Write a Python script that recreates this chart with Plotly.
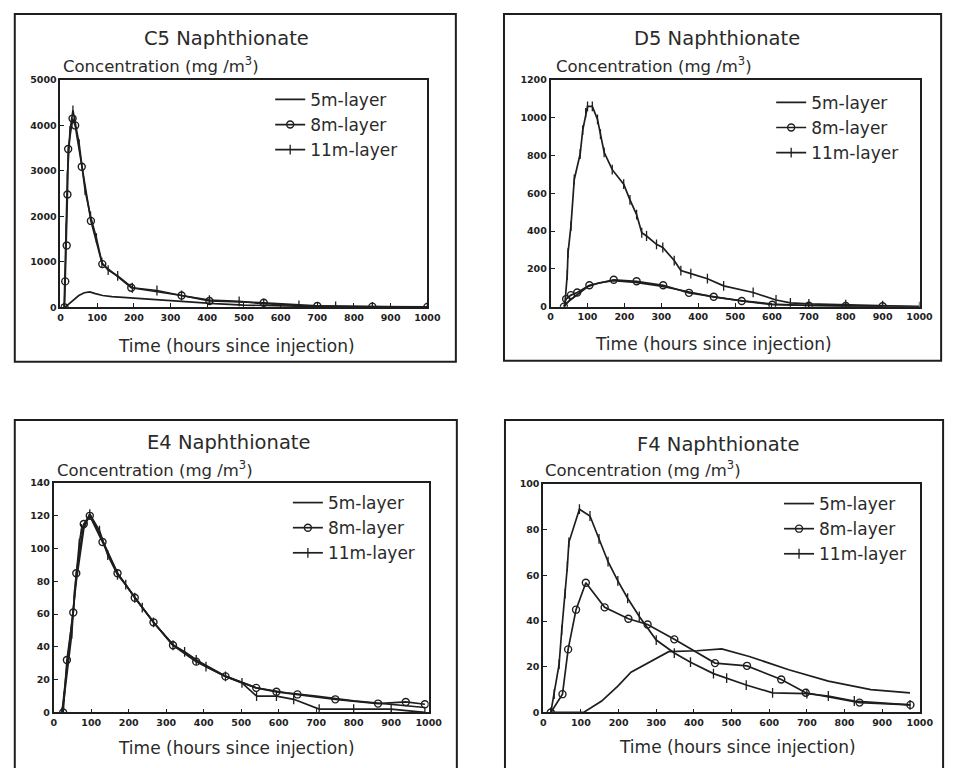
import plotly.graph_objects as go

W, H = 962, 768

# ---- data: time (hours since injection) and concentration (mg/m3) ----
# C5
c5_t5 = [12, 30, 50, 65, 80, 95, 115, 140, 200, 260, 310, 360, 420, 500, 600, 700, 800, 900, 1000]
c5_c5 = [0, 120, 260, 320, 340, 300, 260, 235, 200, 170, 140, 110, 80, 50, 25, 15, 10, 5, 5]
c5_t8 = [11, 13, 17, 19, 21, 33, 40, 58, 83, 114, 193, 330, 406, 554, 700, 850, 1000]
c5_c8 = [0, 570, 1360, 2480, 3480, 4150, 4000, 3090, 1900, 950, 430, 260, 140, 100, 30, 15, 10]
c5_t11 = [10, 16, 19, 26, 34, 51, 67, 82, 98, 113, 130, 156, 196, 263, 330, 406, 487, 554, 650, 750, 850, 1000]
c5_c11 = [0, 1750, 2900, 3880, 4330, 3590, 2580, 2000, 1520, 980, 820, 690, 430, 370, 260, 160, 130, 80, 40, 20, 10, 5]

# D5
d5_t5 = [36, 50, 70, 100, 130, 170, 230, 300, 370, 440, 520, 600, 700, 800, 900, 1000]
d5_c5 = [0, 30, 60, 105, 125, 138, 128, 108, 80, 52, 30, 14, 6, 3, 2, 0]
d5_t8 = [36, 42, 55, 72, 105, 171, 233, 305, 375, 442, 518, 601, 700, 800, 900]
d5_c8 = [0, 40, 61, 75, 113, 142, 134, 113, 73, 52, 30, 10, 5, 3, 2]
d5_t11 = [38, 45, 47, 55, 64, 80, 87, 95, 100, 113, 127, 135, 145, 167, 198, 215, 233, 247, 260, 287,
          304, 335, 353, 380, 425, 469, 549, 611, 650, 700, 800, 900, 1000]
d5_c11 = [0, 168, 283, 426, 673, 808, 934, 1026, 1060, 1060, 991, 913, 817, 725, 648, 565, 487, 391, 374, 330,
          313, 244, 191, 175, 148, 110, 75, 35, 20, 15, 10, 5, 0]

# E4
e4_t5 = [22, 40, 60, 80, 96, 130, 170, 220, 270, 320, 380, 460, 540, 620, 700, 800, 900, 960, 990]
e4_c5 = [0, 38, 80, 112, 121, 105, 85, 69, 54, 41, 32, 22, 15, 12, 10, 7, 5, 4, 3]
e4_t8 = [25, 35, 52, 60, 80, 96, 130, 170, 216, 266, 318, 380, 458, 540, 594, 650, 751, 865, 939, 990]
e4_c8 = [0, 32, 61, 85, 115, 120, 104, 85, 70, 55, 41, 31, 22, 15, 12.6, 11, 8, 5.4, 6.4, 5]
e4_t11 = [22, 28, 48, 55, 68, 74, 96, 122, 144, 170, 192, 216, 236, 266, 318, 349, 380, 406, 458, 502,
          541, 594, 640, 708, 800, 900, 990]
e4_c11 = [0, 10, 48, 72, 103, 112, 121, 111, 96, 84, 78, 70, 64, 55, 41, 37, 32, 28, 22, 18,
          10, 10, 8, 2, 2, 2, 0]

# F4
f4_t5 = [20, 107, 155, 198, 233, 277, 333, 408, 474, 547, 652, 757, 870, 974]
f4_c5 = [0, 0, 5, 11.5, 17.6, 21.6, 26.6, 27, 27.8, 24.5, 18.7, 13.7, 10, 8.6]
f4_t8 = [20, 51, 66, 87, 113, 163, 226, 277, 348, 456, 541, 632, 697, 840, 975]
f4_c8 = [0, 8, 27.6, 45, 56.8, 46, 41, 38.5, 32, 21.6, 20.4, 14.4, 8.6, 4.3, 3.3]
f4_t11 = [20, 29, 42, 49, 58, 64, 68, 96, 124, 148, 172, 198, 224, 255, 300, 348, 391, 452, 487, 539,
          609, 700, 757, 826, 974]
f4_c11 = [0, 8, 21, 36, 52, 64, 74.5, 89, 86, 76, 66, 57.6, 50, 42, 31.7, 26, 22, 17, 15, 12,
          8.6, 8.2, 7.2, 5, 3.3]

titles = ["C5 Naphthionate", "D5 Naphthionate", "E4 Naphthionate", "F4 Naphthionate"]
layer_names = ["5m-layer", "8m-layer", "11m-layer"]
y_max = [5000, 1200, 140, 100]
y_step = [1000, 200, 20, 20]
x_ticks = list(range(0, 1001, 100))

series = [
    [(c5_t5, c5_c5), (c5_t8, c5_c8), (c5_t11, c5_c11)],
    [(d5_t5, d5_c5), (d5_t8, d5_c8), (d5_t11, d5_c11)],
    [(e4_t5, e4_c5), (e4_t8, e4_c8), (e4_t11, e4_c11)],
    [(f4_t5, f4_c5), (f4_t8, f4_c8), (f4_t11, f4_c11)],
]

INK = "#1e1e1e"
TEXT = "#2a2a2a"
FONT = "DejaVu Sans"


def px(x):
    return x / W


def py(y):
    return 1 - y / H


# panel geometry in pixels: plot area, outer frame, text anchors
panels = [
    dict(plot=(58.5, 432, 75, 305.7), frame=(12, 461, 8, 361), title=(228, 33), ylab=(59, 60),
         xlab=(237.5, 345), legend=(272, 77)),
    dict(plot=(557.5, 933, 75, 305), frame=(510, 955, 8, 360), title=(727, 33), ylab=(561, 60),
         xlab=(723.5, 343), legend=(782, 80)),
    dict(plot=(51.7, 433.3, 484, 716.7), frame=(12, 462, 420, 790), title=(230, 443), ylab=(53, 470),
         xlab=(237.5, 753), legend=(290, 486)),
    dict(plot=(550, 933.3, 485, 716.7), frame=(511, 957, 420, 790), title=(727.5, 445), ylab=(550, 470),
         xlab=(747.5, 752), legend=(790, 487)),
]

fig = go.Figure()
layout = dict(width=W, height=H, margin=dict(l=0, r=0, t=0, b=0),
              paper_bgcolor="white", plot_bgcolor="white", showlegend=True,
              font=dict(family=FONT, color=INK))
annotations = []
shapes = []

for i, p in enumerate(panels):
    n = "" if i == 0 else str(i + 1)
    xa, ya, lg = "xaxis" + n, "yaxis" + n, "legend" + n
    x0, x1, y0, y1 = p["plot"]
    tickfont = dict(family=FONT, size=9.5, color=INK, weight="bold")
    axis_style = dict(showline=True, mirror=True, linecolor=INK, linewidth=1.8,
                      ticks="inside", ticklen=4, tickwidth=1.3, tickcolor=INK,
                      showgrid=False, zeroline=False, tickfont=tickfont, fixedrange=True)
    layout[xa] = dict(domain=[px(x0), px(x1)], anchor="y" + n, range=[0, 1000],
                      tickvals=x_ticks, ticktext=[str(v) for v in x_ticks], **axis_style)
    yt = list(range(0, y_max[i] + 1, y_step[i]))
    layout[ya] = dict(domain=[py(y1), py(y0)], anchor="x" + n, range=[0, y_max[i]],
                      tickvals=yt, ticktext=[str(v) for v in yt], **axis_style)
    lx, ly = p["legend"]
    layout[lg] = dict(x=px(lx), y=py(ly), xanchor="left", yanchor="top",
                      bgcolor="rgba(0,0,0,0)", borderwidth=0,
                      font=dict(family=FONT, size=17, color=TEXT))

    for j, (t, c) in enumerate(series[i]):
        tr = dict(x=t, y=c, xaxis="x" + n, yaxis="y" + n, legend=lg, name=layer_names[j],
                  line=dict(color=INK, width=1.7), hoverinfo="skip")
        if j == 0:
            tr["mode"] = "lines"
        elif j == 1:
            tr["mode"] = "lines+markers"
            tr["marker"] = dict(symbol="circle-open", size=7, color=INK, line=dict(width=1.4, color=INK))
        else:
            tr["mode"] = "lines+markers"
            tr["marker"] = dict(symbol="line-ns", size=7, color=INK, line=dict(width=1.3, color=INK))
        fig.add_trace(go.Scatter(**tr))

    tx, ty = p["title"]
    annotations.append(dict(text=titles[i], x=px(tx), y=py(ty), xref="paper", yref="paper",
                            xanchor="center", yanchor="middle", showarrow=False,
                            font=dict(size=19.5, color=TEXT)))
    yx, yy = p["ylab"]
    annotations.append(dict(text="Concentration (mg /m<sup>3</sup>)", x=px(yx), y=py(yy),
                            xref="paper", yref="paper", xanchor="left", yanchor="middle",
                            showarrow=False, font=dict(size=16.5, color=TEXT)))
    xx, xy = p["xlab"]
    annotations.append(dict(text="Time (hours since injection)", x=px(xx), y=py(xy),
                            xref="paper", yref="paper", xanchor="center", yanchor="middle",
                            showarrow=False, font=dict(size=17, color=TEXT)))
    fx0, fx1, fy0, fy1 = p["frame"]
    shapes.append(dict(type="rect", xref="paper", yref="paper", x0=px(fx0), x1=px(fx1),
                       y0=py(fy1), y1=py(fy0), line=dict(color=INK, width=2)))

layout["annotations"] = annotations
layout["shapes"] = shapes
fig.update_layout(**layout)
fig.write_html("out.html")
